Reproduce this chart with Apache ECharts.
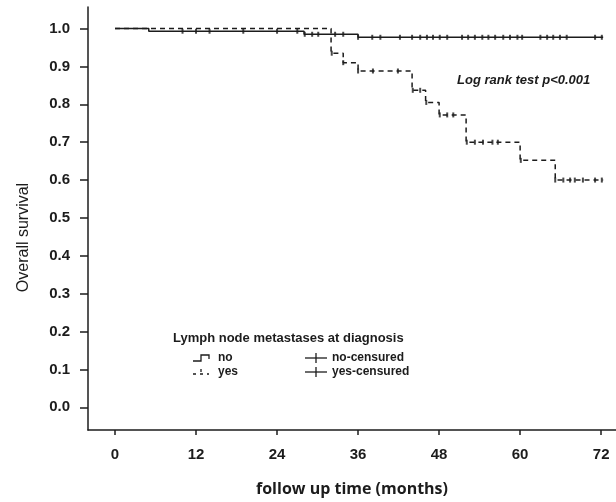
<!DOCTYPE html>
<html>
<head>
<meta charset="utf-8">
<script src="https://cdn.jsdelivr.net/npm/echarts@6/dist/echarts.min.js"></script>
<style>
  html, body { margin: 0; padding: 0; background: #fff; }
  #chart { width: 616px; height: 502px; }
</style>
</head>
<body>
<div id="chart"></div>
<script>
// survival curves (step points: time in months, survival after the step)
var noTimes = [0, 5, 28, 36, 72.3];
var noSurv = [1.0, 0.993, 0.985, 0.977, 0.977];
var yesTimes = [0, 32, 33.8, 36, 44, 46, 48, 52, 60, 65.2, 72.3];
var yesSurv = [1.0, 0.935, 0.91, 0.888, 0.837, 0.805, 0.772, 0.70, 0.652, 0.60, 0.60];

// censored times
var noCensor = [10, 12, 14, 19, 24, 27, 28.1, 29.2, 30.1, 32.6, 33.8, 36, 38.1, 39.3, 42.2, 44,
  45.2, 46.2, 47.1, 48.1, 49.2, 51.4, 52.3, 53.3, 54.4, 55.3, 56.3, 57.5, 58.5, 59.6, 60.3,
  63, 64, 64.9, 65.9, 66.9, 71.1, 72.1];
var yesCensor = [32.1, 33.8, 36, 38.2, 41.9, 44.1, 45.2, 46.1, 48.1, 49.2, 50.1, 52.1, 53.3,
  54.5, 55.9, 56.7, 60.1, 65.2, 66.4, 67.4, 68.1, 69.3, 71.1, 72.1];

var xTicks = [0, 12, 24, 36, 48, 60, 72];
var yTicks = [0, 0.1, 0.2, 0.3, 0.4, 0.5, 0.6, 0.7, 0.8, 0.9, 1.0];

var ink = '#1c1c1c';

function zip(ts, ss) {
  return ts.map(function (t, i) { return [t, ss[i]]; });
}
// survival level at time t (value of the step curve)
function levelAt(ts, ss, t) {
  var v = ss[0];
  for (var i = 0; i < ts.length; i++) {
    if (ts[i] <= t) v = ss[i];
  }
  return v;
}
function censorPts(cs, ts, ss) {
  return cs.map(function (t) { return [t, levelAt(ts, ss, t)]; });
}

var chart = echarts.init(document.getElementById('chart'));

var option = {
  backgroundColor: '#fff',
  animation: false,
  grid: { left: 88, right: 0, top: 7, bottom: 65 },
  xAxis: {
    type: 'value',
    min: -4,
    max: 74.2,
    name: 'follow up time (months)',
    nameLocation: 'middle',
    nameGap: 51,
    nameTextStyle: { fontFamily: 'Open Sans', fontWeight: 'bold', fontSize: 16, color: ink },
    axisLine: { show: true, onZero: false, lineStyle: { color: ink, width: 1.5 } },
    axisTick: { show: true, customValues: xTicks, length: 5, lineStyle: { color: ink, width: 1.5 } },
    axisLabel: {
      customValues: xTicks, margin: 17,
      fontFamily: 'Liberation Sans', fontWeight: 'bold', fontSize: 15, color: ink
    },
    splitLine: { show: false }
  },
  yAxis: {
    type: 'value',
    min: -0.06,
    max: 1.057,
    name: 'Overall survival',
    nameLocation: 'middle',
    nameGap: 56,
    nameTextStyle: {
      fontFamily: 'Liberation Sans', fontSize: 16, color: ink,
      padding: [0, 0, 0, -38]
    },
    axisLine: { show: true, onZero: false, lineStyle: { color: ink, width: 1.5 } },
    axisTick: { show: true, customValues: yTicks, length: 8, lineStyle: { color: ink, width: 1.5 } },
    axisLabel: {
      customValues: yTicks, margin: 18,
      fontFamily: 'Liberation Sans', fontWeight: 'bold', fontSize: 15, color: ink,
      formatter: function (v) { return v.toFixed(1); }
    },
    splitLine: { show: false }
  },
  series: [
    {
      name: 'no',
      type: 'line',
      step: 'end',
      data: zip(noTimes, noSurv),
      showSymbol: false,
      lineStyle: { color: ink, width: 1.5 },
      z: 3
    },
    {
      name: 'yes',
      type: 'line',
      step: 'end',
      data: zip(yesTimes, yesSurv),
      showSymbol: false,
      lineStyle: { color: ink, width: 1.5, type: [5, 4] },
      z: 2
    },
    {
      name: 'no-censured',
      type: 'scatter',
      data: censorPts(noCensor, noTimes, noSurv),
      symbol: 'rect',
      symbolSize: [2, 5],
      itemStyle: { color: ink },
      z: 4
    },
    {
      name: 'yes-censured',
      type: 'scatter',
      data: censorPts(yesCensor, yesTimes, yesSurv),
      symbol: 'rect',
      symbolSize: [2, 5],
      itemStyle: { color: ink },
      z: 4
    }
  ],
  graphic: [
    {
      type: 'text', left: 457, top: 74,
      style: { text: 'Log rank test p<0.001', fontFamily: 'Liberation Sans', fontWeight: 'bold',
        fontStyle: 'italic', fontSize: 13, fill: ink }
    },
    {
      type: 'text', left: 173, top: 332,
      style: { text: 'Lymph node metastases at diagnosis', fontFamily: 'Liberation Sans',
        fontWeight: 'bold', fontSize: 13, fill: ink }
    },
    {
      type: 'polyline',
      shape: { points: [[193, 361], [201, 361], [201, 355], [209, 355], [209, 359]] },
      style: { stroke: ink, lineWidth: 1.3, fill: null }
    },
    {
      type: 'polyline',
      shape: { points: [[193, 374], [209, 374]] },
      style: { stroke: ink, lineWidth: 1.3, fill: null, lineDash: [3, 4] }
    },
    {
      type: 'line', shape: { x1: 201, y1: 369, x2: 201, y2: 372 },
      style: { stroke: ink, lineWidth: 1.3 }
    },
    {
      type: 'text', left: 218, top: 352,
      style: { text: 'no', fontFamily: 'Liberation Sans', fontWeight: 'bold', fontSize: 12, fill: ink }
    },
    {
      type: 'text', left: 218, top: 366,
      style: { text: 'yes', fontFamily: 'Liberation Sans', fontWeight: 'bold', fontSize: 12, fill: ink }
    },
    {
      type: 'line', shape: { x1: 305, y1: 358, x2: 327, y2: 358 },
      style: { stroke: ink, lineWidth: 1.3 }
    },
    {
      type: 'line', shape: { x1: 316, y1: 353, x2: 316, y2: 363 },
      style: { stroke: ink, lineWidth: 1.3 }
    },
    {
      type: 'line', shape: { x1: 305, y1: 372, x2: 327, y2: 372 },
      style: { stroke: ink, lineWidth: 1.3 }
    },
    {
      type: 'line', shape: { x1: 316, y1: 367, x2: 316, y2: 377 },
      style: { stroke: ink, lineWidth: 1.3 }
    },
    {
      type: 'text', left: 332, top: 352,
      style: { text: 'no-censured', fontFamily: 'Liberation Sans', fontWeight: 'bold', fontSize: 12, fill: ink }
    },
    {
      type: 'text', left: 332, top: 366,
      style: { text: 'yes-censured', fontFamily: 'Liberation Sans', fontWeight: 'bold', fontSize: 12, fill: ink }
    }
  ]
};

chart.setOption(option);
</script>
</body>
</html>
